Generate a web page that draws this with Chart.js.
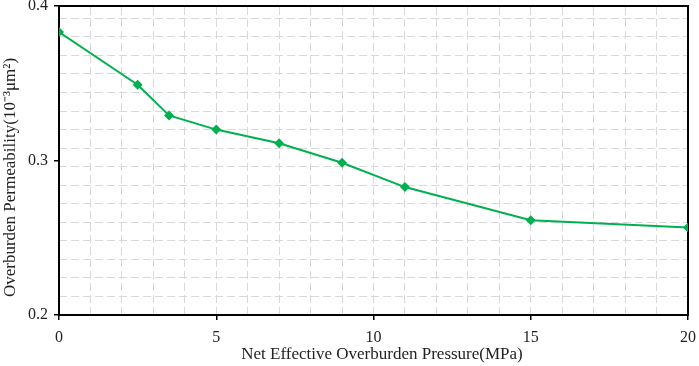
<!DOCTYPE html>
<html>
<head>
<meta charset="utf-8">
<script src="https://cdn.jsdelivr.net/npm/chart.js@4/dist/chart.umd.min.js"></script>
<style>
  html, body { margin: 0; padding: 0; background: #fff; }
  #wrap { width: 699px; height: 366px; }
</style>
</head>
<body>
<div id="wrap"><canvas id="lineChart" width="699" height="366"></canvas></div>
<script>
// values
const pressure = [0, 2.5, 3.5, 5, 7, 9, 11, 15, 20];
const permeability = [0.3832, 0.349, 0.3292, 0.320, 0.3112, 0.2985, 0.2828, 0.2613, 0.2566];
const xTicks = [0, 5, 10, 15, 20];
const yTicks = [0.2, 0.3, 0.4];

const green = "#00b050";
const gridColor = "#d8d8d8";
const serif = "'Liberation Serif', 'Times New Roman', serif";

// grid spacing used by the original plot
const xGridStep = 1;
const yGridStep = 0.012;

new Chart(document.getElementById("lineChart"), {
  type: "line",
  data: {
    datasets: [
      {
        label: "Permeability",
        data: pressure.map((p, i) => ({ x: p, y: permeability[i] })),
        borderColor: green,
        backgroundColor: green,
        borderWidth: 2,
        pointStyle: "rectRot",
        pointRadius: 5,
        pointBorderWidth: 0,
        tension: 0,
      },
    ],
  },
  options: {
    responsive: false,
    animation: false,
    devicePixelRatio: 1,
    layout: { padding: { top: 6, right: 11, left: 0, bottom: 0 } },
    plugins: {
      legend: { display: false },
      tooltip: { enabled: false },
    },
    scales: {
      x: {
        type: "linear",
        position: "bottom",
        min: 0,
        max: 20,
        afterBuildTicks: (s) => { s.ticks = xTicks.map((v) => ({ value: v })); },
        afterFit: (s) => { s.height = 51; s.paddingLeft = 0; s.paddingRight = 0; },
        ticks: { color: "#222", font: { family: serif, size: 16 }, padding: 8, maxRotation: 0 },
        grid: { drawOnChartArea: false, drawTicks: true, tickLength: 5, color: "#000", lineWidth: 1.5 },
        border: { color: "#000", width: 2 },
        title: {
          display: true,
          text: "    Net Effective Overburden Pressure(MPa)",
          color: "#222",
          font: { family: serif, size: 17 },
          padding: { top: 0, bottom: 1 },
        },
      },
      y: {
        type: "linear",
        position: "left",
        min: 0.2,
        max: 0.4,
        afterBuildTicks: (s) => { s.ticks = yTicks.map((v) => ({ value: v })); },
        afterFit: (s) => { s.width = 59; s.paddingTop = 0; s.paddingBottom = 0; },
        ticks: { color: "#222", font: { family: serif, size: 16 }, padding: 6 },
        grid: { drawOnChartArea: false, drawTicks: true, tickLength: 5, color: "#000", lineWidth: 1.5 },
        border: { color: "#000", width: 2 },
        title: {
          display: true,
          text: "Overburden Permeability(10\u207B\u00B3\u03BCm\u00B2)        ",
          color: "#222",
          font: { family: serif, size: 17 },
          padding: { top: 0, bottom: 0 },
        },
      },
      xGrid: {
        type: "linear",
        position: "top",
        min: 0,
        max: 20,
        afterBuildTicks: (s) => {
          const t = [];
          for (let v = xGridStep; v < 20 - 1e-9; v += xGridStep) t.push({ value: v });
          s.ticks = t;
        },
        afterFit: (s) => { s.height = 0; s.paddingLeft = 0; s.paddingRight = 0; },
        ticks: { display: false },
        grid: { drawTicks: false, color: gridColor, lineWidth: 1 },
        border: { display: true, color: "#000", width: 2, dash: [8, 4] },
      },
      yGrid: {
        type: "linear",
        position: "right",
        min: 0.2,
        max: 0.4,
        afterBuildTicks: (s) => {
          const t = [];
          for (let k = 1; 0.2 + k * yGridStep < 0.4 - 1e-9; k++) t.push({ value: 0.2 + k * yGridStep });
          s.ticks = t;
        },
        afterFit: (s) => { s.width = 0; s.paddingTop = 0; s.paddingBottom = 0; },
        ticks: { display: false },
        grid: { drawTicks: false, color: gridColor, lineWidth: 1 },
        border: { display: true, color: "#000", width: 2, dash: [8, 4] },
      },
    },
  },
});
</script>
</body>
</html>
